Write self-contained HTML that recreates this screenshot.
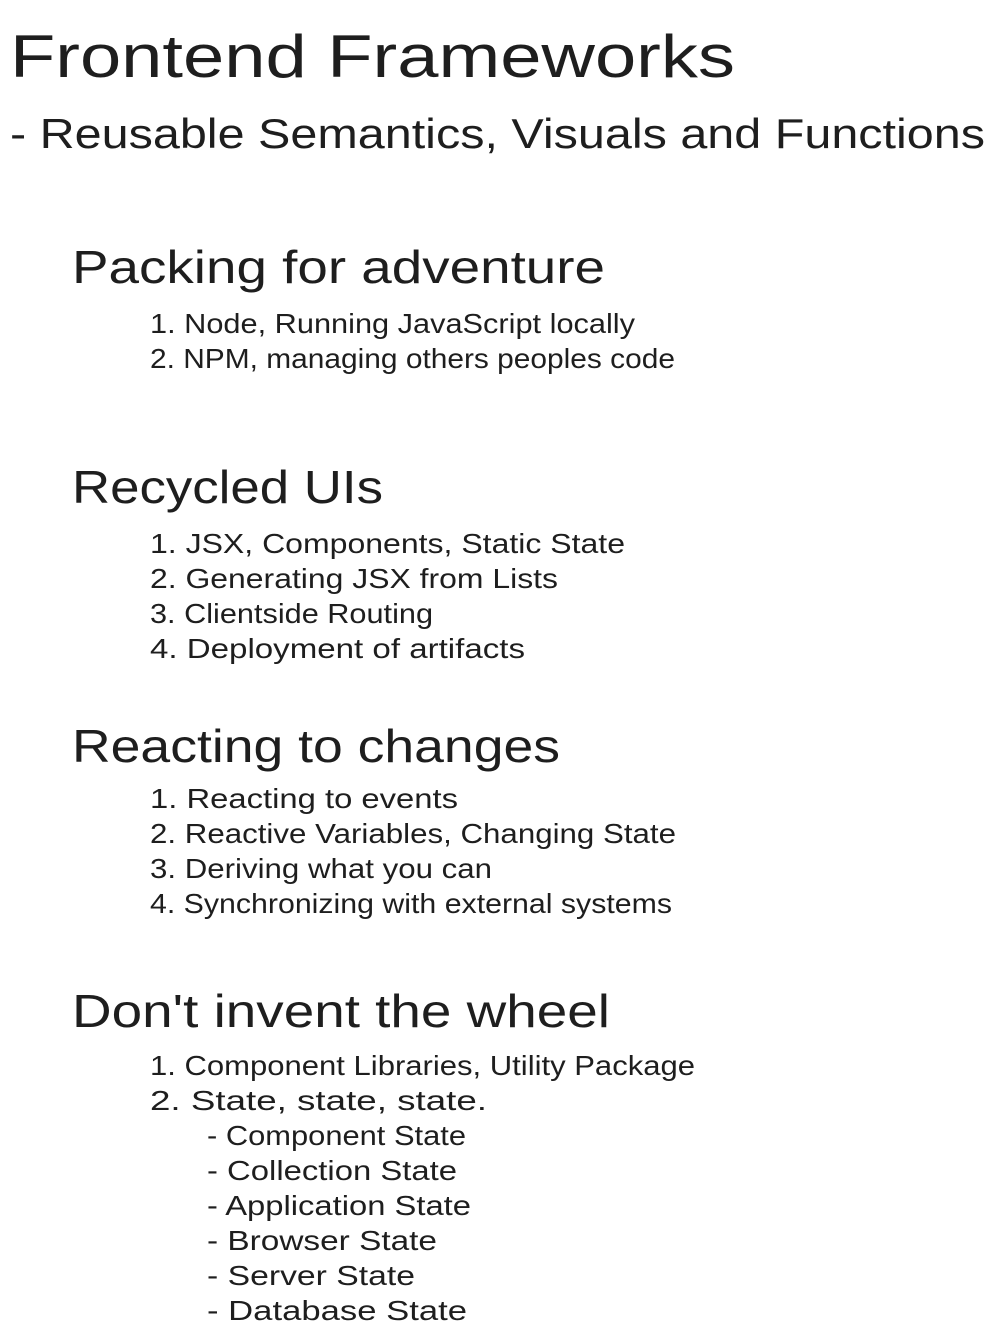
<!DOCTYPE html>
<html><head><meta charset="utf-8"><style>
html,body{margin:0;padding:0;background:#fff;}
svg{display:block;}
text{font-family:"Liberation Sans",sans-serif;fill:#1e1e1e;}
</style></head><body>
<svg width="996" height="1338" viewBox="0 0 996 1338" xmlns="http://www.w3.org/2000/svg">
<text x="10" y="77" font-size="60" textLength="725" lengthAdjust="spacingAndGlyphs">Frontend Frameworks</text>
<text x="10" y="148" font-size="42" textLength="975" lengthAdjust="spacingAndGlyphs">- Reusable Semantics, Visuals and Functions</text>

<text x="72" y="283" font-size="46" textLength="533" lengthAdjust="spacingAndGlyphs">Packing for adventure</text>
<text x="150" y="333" font-size="28" textLength="485" lengthAdjust="spacingAndGlyphs">1.  Node, Running JavaScript locally</text>
<text x="150" y="368" font-size="28" textLength="525" lengthAdjust="spacingAndGlyphs">2. NPM, managing others peoples code</text>

<text x="72" y="503" font-size="46" textLength="311" lengthAdjust="spacingAndGlyphs">Recycled UIs</text>
<text x="150" y="553" font-size="28" textLength="475" lengthAdjust="spacingAndGlyphs">1.  JSX, Components, Static State</text>
<text x="150" y="588" font-size="28" textLength="408" lengthAdjust="spacingAndGlyphs">2. Generating JSX from Lists</text>
<text x="150" y="623" font-size="28" textLength="283" lengthAdjust="spacingAndGlyphs">3. Clientside Routing</text>
<text x="150" y="658" font-size="28" textLength="375" lengthAdjust="spacingAndGlyphs">4. Deployment of artifacts</text>

<text x="72" y="762" font-size="46" textLength="488" lengthAdjust="spacingAndGlyphs">Reacting to changes</text>
<text x="150" y="808" font-size="28" textLength="308" lengthAdjust="spacingAndGlyphs">1.  Reacting to events</text>
<text x="150" y="843" font-size="28" textLength="526" lengthAdjust="spacingAndGlyphs">2. Reactive Variables, Changing State</text>
<text x="150" y="878" font-size="28" textLength="342" lengthAdjust="spacingAndGlyphs">3. Deriving what you can</text>
<text x="150" y="913" font-size="28" textLength="522" lengthAdjust="spacingAndGlyphs">4. Synchronizing with external systems</text>

<text x="72" y="1027" font-size="46" textLength="538" lengthAdjust="spacingAndGlyphs">Don't invent the wheel</text>
<text x="150" y="1075" font-size="28" textLength="545" lengthAdjust="spacingAndGlyphs">1.  Component Libraries, Utility Package</text>
<text x="150" y="1110" font-size="28" textLength="337" lengthAdjust="spacingAndGlyphs">2. State, state, state.</text>
<text x="207" y="1145" font-size="28" textLength="259" lengthAdjust="spacingAndGlyphs">- Component State</text>
<text x="207" y="1180" font-size="28" textLength="250" lengthAdjust="spacingAndGlyphs">- Collection State</text>
<text x="207" y="1215" font-size="28" textLength="264" lengthAdjust="spacingAndGlyphs">- Application State</text>
<text x="207" y="1250" font-size="28" textLength="230" lengthAdjust="spacingAndGlyphs">- Browser State</text>
<text x="207" y="1285" font-size="28" textLength="208" lengthAdjust="spacingAndGlyphs">- Server State</text>
<text x="207" y="1320" font-size="28" textLength="260" lengthAdjust="spacingAndGlyphs">- Database State</text>
</svg>
</body></html>
